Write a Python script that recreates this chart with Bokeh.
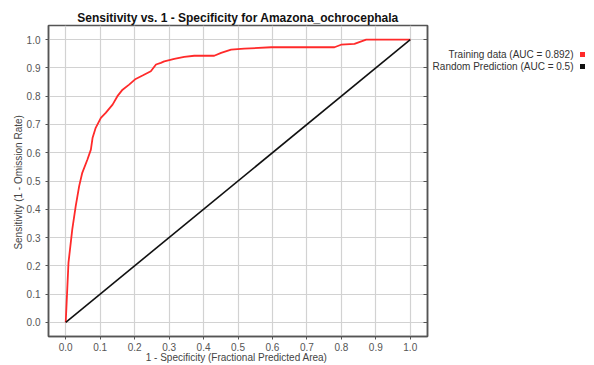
from bokeh.plotting import figure
from bokeh.layouts import row
from bokeh.models import Range1d, LinearAxis, FixedTicker, CustomJSTickFormatter
from bokeh.core.properties import value
from bokeh.embed import file_html
from bokeh.resources import INLINE

# ROC curve for the training data
fpr = [0.0, 0.008, 0.019, 0.029, 0.039, 0.048, 0.063, 0.073, 0.078, 0.087,
       0.102, 0.116, 0.136, 0.150, 0.165, 0.184, 0.203, 0.223, 0.247, 0.262,
       0.276, 0.286, 0.315, 0.344, 0.373, 0.431, 0.451, 0.480, 0.518, 0.596,
       0.654, 0.780, 0.799, 0.838, 0.872, 1.0]
tpr = [0.0, 0.211, 0.329, 0.411, 0.482, 0.529, 0.576, 0.611, 0.653, 0.688,
       0.723, 0.741, 0.770, 0.800, 0.823, 0.841, 0.861, 0.873, 0.888, 0.912,
       0.918, 0.923, 0.932, 0.939, 0.943, 0.943, 0.953, 0.965, 0.968, 0.973,
       0.973, 0.973, 0.982, 0.985, 1.0, 1.0]

# Random prediction reference line
rand_x = [0.0, 1.0]
rand_y = [0.0, 1.0]

ticks = [0.0, 0.1, 0.2, 0.3, 0.4, 0.5, 0.6, 0.7, 0.8, 0.9, 1.0]
series_labels = ["Training data (AUC = 0.892)", "Random Prediction (AUC = 0.5)"]
series_colors = ["#ff2a2a", "#111111"]

FONT = "Liberation Sans"

p = figure(width=430, height=365, output_backend="svg", toolbar_location=None,
           x_range=Range1d(-0.05, 1.05), y_range=Range1d(-0.05, 1.05),
           min_border_left=48, min_border_right=3, min_border_top=25,
           min_border_bottom=0)
p.outline_line_color = "#555555"
p.outline_line_width = 1.5

p.title.text = "Sensitivity vs. 1 - Specificity for Amazona_ochrocephala"
p.title.align = "center"
p.title.text_font = FONT
p.title.text_font_size = "12px"
p.title.text_font_style = "bold"
p.title.text_color = "#111111"
p.title.standoff = 2

p.line(fpr, tpr, line_color=series_colors[0], line_width=1.8)
p.line(rand_x, rand_y, line_color=series_colors[1], line_width=1.6)

fmt = CustomJSTickFormatter(code="return tick.toFixed(1);")
for ax in (p.xaxis[0], p.yaxis[0]):
    ax.ticker = FixedTicker(ticks=ticks)
    ax.formatter = fmt
    ax.major_label_text_font = FONT
    ax.major_label_text_font_size = "10px"
    ax.major_label_text_color = "#555555"
    ax.axis_line_color = "#555555"
    ax.axis_line_width = 1.5
    ax.major_tick_line_color = "#555555"
    ax.major_tick_in = 0
    ax.major_tick_out = 3
    ax.minor_tick_out = 0
    ax.minor_tick_in = 0
    ax.axis_label_text_font = FONT
    ax.axis_label_text_font_style = "normal"
    ax.axis_label_text_font_size = "10px"
    ax.axis_label_text_color = "#444444"

p.xaxis[0].major_label_standoff = 3
p.xaxis[0].axis_label = "1 - Specificity  (Fractional Predicted Area)"
p.xaxis[0].axis_label_standoff = -2

p.yaxis[0].major_label_standoff = 5
p.yaxis[0].axis_label = "Sensitivity  (1 - Omission Rate)"
p.yaxis[0].axis_label_standoff = 0

# right-hand axis: inward ticks, no labels
raxis = LinearAxis(ticker=FixedTicker(ticks=ticks),
                   formatter=CustomJSTickFormatter(code="return '';"),
                   axis_line_color="#555555", axis_line_width=1.5,
                   major_tick_in=4, major_tick_out=0, minor_tick_in=0, minor_tick_out=0,
                   major_tick_line_color="#555555", major_label_standoff=0)
p.add_layout(raxis, "right")

p.xgrid.ticker = FixedTicker(ticks=ticks)
p.ygrid.ticker = FixedTicker(ticks=ticks)
p.xgrid.grid_line_color = "#d2d2d2"
p.ygrid.grid_line_color = "#d2d2d2"
p.xgrid.grid_line_width = 1.2
p.ygrid.grid_line_width = 1.2

# legend panel: right-aligned text followed by a coloured square
leg = figure(width=164, height=365, output_backend="svg", toolbar_location=None,
             x_range=Range1d(0, 164), y_range=Range1d(0, 365),
             x_axis_location=None, y_axis_location=None,
             min_border=0, outline_line_color=None)
leg.grid.visible = False
leg_x_text = [143, 143]
leg_x_mark = [152, 152]
leg_y = [331, 317]
leg.text(x=leg_x_text, y=leg_y, text=series_labels, text_font=value(FONT),
         text_font_size="10px", text_align="right", text_baseline="middle",
         text_color="#333333")
leg.scatter(x=leg_x_mark, y=leg_y, marker="square", size=5,
            fill_color=series_colors, line_color=None)

layout = row(p, leg)
open("out.html", "w").write(file_html(layout, INLINE))
